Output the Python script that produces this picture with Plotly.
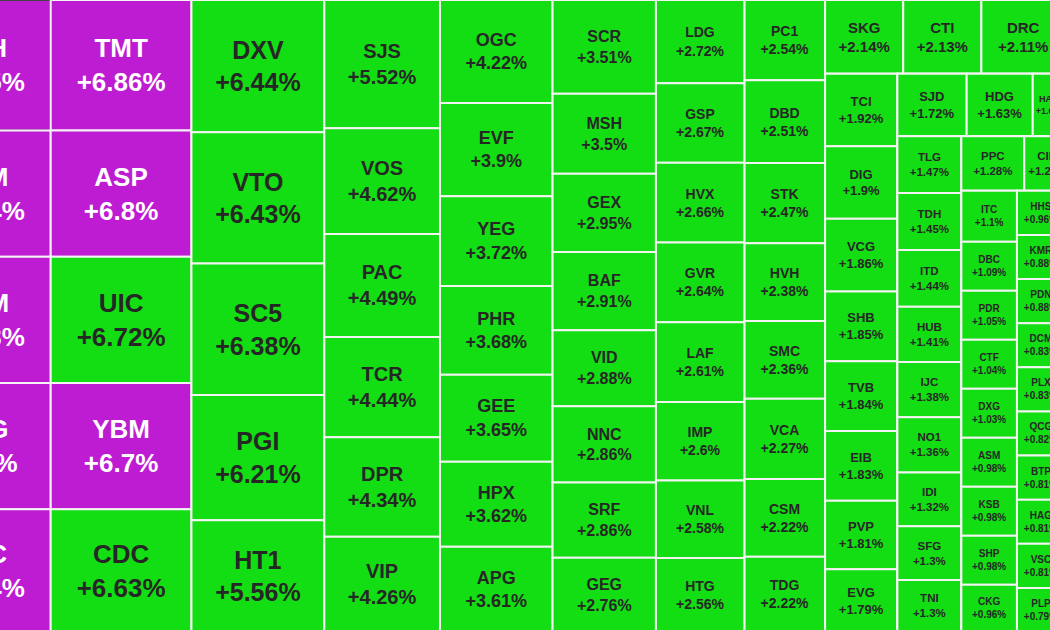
import plotly.graph_objects as go

PURPLE = "#bd1cd2"
GREEN = "#13dd13"

# (name, change %, relative size, ceiling?)
col1 = [("VPH", 6.95, 182, 1), ("DTM", 6.94, 176, 1), ("HSM", 6.93, 176, 1), ("SHG", 6.9, 176, 1), ("TDC", 6.94, 171, 1)]
col2 = [("TMT", 6.86, 182, 1), ("ASP", 6.8, 176, 1), ("UIC", 6.72, 176, 0), ("YBM", 6.7, 176, 1), ("CDC", 6.63, 171, 0)]
col3 = [("DXV", 6.44, 174, 0), ("VTO", 6.43, 173, 0), ("SC5", 6.38, 173, 0), ("PGI", 6.21, 165, 0), ("HT1", 5.56, 147, 0)]
col4 = [("SJS", 5.52, 147, 0), ("VOS", 4.62, 121, 0), ("PAC", 4.49, 118, 0), ("TCR", 4.44, 115, 0), ("DPR", 4.34, 114, 0), ("VIP", 4.26, 109, 0)]
col5 = [("OGC", 4.22, 115, 0), ("EVF", 3.9, 104, 0), ("YEG", 3.72, 100, 0), ("PHR", 3.68, 99, 0), ("GEE", 3.65, 97, 0), ("HPX", 3.62, 95, 0), ("APG", 3.61, 95, 0)]
col6 = [("SCR", 3.51, 96, 0), ("MSH", 3.5, 82, 0), ("GEX", 2.95, 80, 0), ("BAF", 2.91, 80, 0), ("VID", 2.88, 78, 0), ("NNC", 2.86, 78, 0), ("SRF", 2.86, 77, 0), ("GEG", 2.76, 76, 0)]
col7 = [("LDG", 2.72, 73, 0), ("GSP", 2.67, 70, 0), ("HVX", 2.66, 70, 0), ("GVR", 2.64, 70, 0), ("LAF", 2.61, 70, 0), ("IMP", 2.6, 69, 0), ("VNL", 2.58, 68, 0), ("HTG", 2.56, 65, 0)]
col8 = [("PC1", 2.54, 64, 0), ("DBD", 2.51, 66, 0), ("STK", 2.47, 64, 0), ("HVH", 2.38, 62, 0), ("SMC", 2.36, 62, 0), ("VCA", 2.27, 64, 0), ("CSM", 2.22, 62, 0), ("TDG", 2.22, 60, 0)]
top_row = [("SKG", 2.14, 57, 0), ("CTI", 2.13, 57, 0), ("DRC", 2.11, 61, 0)]
col_tci = [("TCI", 1.92, 52, 0), ("DIG", 1.9, 52, 0), ("VCG", 1.86, 52, 0), ("SHB", 1.85, 50, 0), ("TVB", 1.84, 50, 0), ("EIB", 1.83, 50, 0), ("PVP", 1.81, 49, 0), ("EVG", 1.79, 45, 0)]
row_sjd = [("SJD", 1.72, 43, 0), ("HDG", 1.63, 41, 0), ("HAH", 1.6, 20, 0)]
col_tlg = [("TLG", 1.47, 36, 0), ("TDH", 1.45, 36, 0), ("ITD", 1.44, 36, 0), ("HUB", 1.41, 35, 0), ("IJC", 1.38, 35, 0), ("NO1", 1.36, 35, 0), ("IDI", 1.32, 34, 0), ("SFG", 1.3, 34, 0), ("TNI", 1.3, 33, 0)]
row_ppc = [("PPC", 1.28, 34, 0), ("CII", 1.2, 22, 0)]
col_itc = [("ITC", 1.1, 28, 0), ("DBC", 1.09, 27, 0), ("PDR", 1.05, 27, 0), ("CTF", 1.04, 27, 0), ("DXG", 1.03, 27, 0), ("ASM", 0.98, 27, 0), ("KSB", 0.98, 27, 0), ("SHP", 0.98, 27, 0), ("CKG", 0.96, 26, 0)]
col_hh = [("HHS", 0.96, 21, 0), ("KMR", 0.88, 21, 0), ("PDN", 0.88, 21, 0), ("DCM", 0.83, 21, 0), ("PLX", 0.83, 21, 0), ("QCG", 0.82, 21, 0), ("BTP", 0.81, 21, 0), ("HAG", 0.81, 21, 0), ("VSC", 0.81, 21, 0), ("PLP", 0.79, 21, 0)]

ids, parents, values, texts, colors, fcolors, fsizes = [], [], [], [], [], [], []

def node(i, p):
    ids.append(i); parents.append(p); values.append(0); texts.append("")
    colors.append("white"); fcolors.append("white"); fsizes.append(10)

def leaves(group, p, size):
    for name, pct, v, ceil in group:
        ids.append(name); parents.append(p); values.append(v)
        texts.append(f"<b>{name}<br>+{pct:g}%</b>")
        colors.append(PURPLE if ceil else GREEN)
        fcolors.append("white" if ceil else "#262626")
        fsizes.append(size)

node("ALL", "")
for k, (g, s) in enumerate([(col1, 26), (col2, 26), (col3, 25), (col4, 20), (col5, 18), (col6, 16), (col7, 14), (col8, 14)]):
    node(f"C{k}", "ALL"); leaves(g, f"C{k}", s)
node("RR", "ALL")
node("TOP", "RR"); leaves(top_row, "TOP", 15)
node("BOT", "RR")
node("CT", "BOT"); leaves(col_tci, "CT", 13)
node("REST", "BOT")
node("R1", "REST"); leaves(row_sjd, "R1", 13)
node("R2", "REST")
node("CL", "R2"); leaves(col_tlg, "CL", 11.5)
node("R3", "R2")
node("R4", "R3"); leaves(row_ppc, "R4", 11.5)
node("R5", "R3")
node("CI", "R5"); leaves(col_itc, "CI", 10)
node("CH", "R5"); leaves(col_hh, "CH", 10)

fig = go.Figure(go.Treemap(
    ids=ids, labels=ids, parents=parents, values=values,
    branchvalues="remainder", text=texts, texttemplate="%{text}",
    textposition="middle center",
    textfont=dict(family="Liberation Sans, Arial", color=fcolors, size=fsizes),
    marker=dict(colors=colors, line=dict(color="#f4f4f4", width=2), pad=dict(t=0, l=0, r=0, b=0)),
    tiling=dict(packing="slice-dice", pad=0),
    pathbar=dict(visible=False), hoverinfo="skip", sort=False, root=dict(color="white"),
))
fig.update_layout(width=1155, height=632, autosize=False,
                  margin=dict(l=0, r=0, t=0, b=0), paper_bgcolor="white")

post = ("document.body.style.margin='0';document.body.style.overflow='hidden';"
        "var d=document.getElementById('{plot_id}');d.style.marginLeft='-90px';")
fig.write_html("out.html", post_script=post, config={"displayModeBar": False})
